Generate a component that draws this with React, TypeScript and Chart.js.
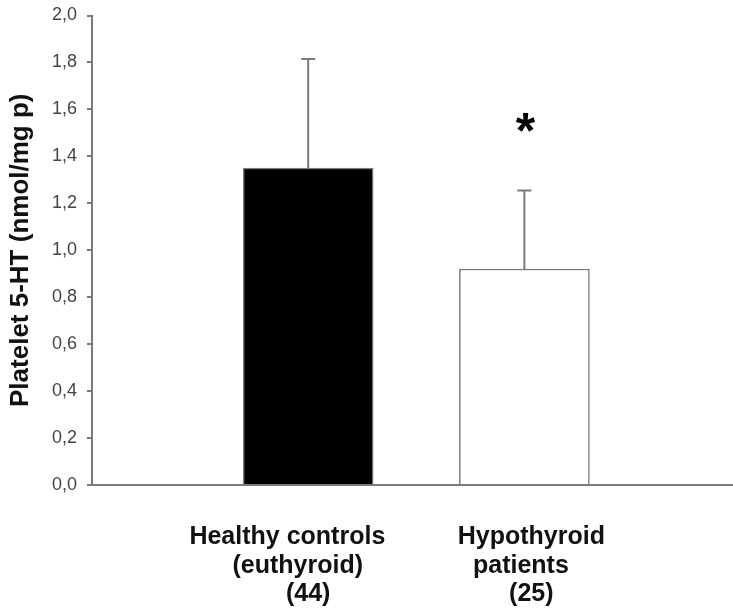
import React, { useEffect, useRef } from "react";
import { Chart, registerables } from "chart.js";

Chart.register(...registerables);

const categories: string[][] = [
  ["Healthy controls      ", "(euthyroid)   ", "(44)"],
  ["  Hypothyroid", "patients ", "  (25)"],
];
const positions = [1, 2];
const means = [1.35, 0.92];
const sds = [0.465, 0.335];
const sigMarks = ["", "*"];
const yTicks = [0, 0.2, 0.4, 0.6, 0.8, 1.0, 1.2, 1.4, 1.6, 1.8, 2.0];

const FONT = "'Liberation Sans', Arial, Helvetica, sans-serif";
const GREY = "#7a7a7a";

const errorBarPlugin = {
  id: "errorBars",
  afterDatasetsDraw(chart: any) {
    const { ctx } = chart;
    const xs = chart.scales.x;
    const ys = chart.scales.y;
    ctx.save();
    ctx.strokeStyle = GREY;
    ctx.lineWidth = 2;
    means.forEach((m, i) => {
      const px = xs.getPixelForValue(positions[i]);
      const y0 = ys.getPixelForValue(m);
      const y1 = ys.getPixelForValue(m + sds[i]);
      ctx.beginPath();
      ctx.moveTo(px, y0);
      ctx.lineTo(px, y1);
      ctx.moveTo(px - 7, y1);
      ctx.lineTo(px + 7, y1);
      ctx.stroke();
      if (sigMarks[i]) {
        ctx.font = `bold 50px ${FONT}`;
        ctx.fillStyle = "#000";
        ctx.textAlign = "center";
        ctx.textBaseline = "alphabetic";
        const mt = ctx.measureText(sigMarks[i]);
        const asc = mt.actualBoundingBoxAscent;
        const desc = mt.actualBoundingBoxDescent;
        const cy = y1 - 68;
        ctx.fillText(sigMarks[i], px + 1, cy + (asc - desc) / 2);
      }
    });
    ctx.restore();
  },
};

export default function App() {
  const ref = useRef<HTMLCanvasElement | null>(null);
  useEffect(() => {
    if (!ref.current) return;
    const chart = new Chart(ref.current, {
      type: "bar",
      data: {
        datasets: [
          {
            data: positions.map((p, i) => ({ x: p, y: means[i] })),
            backgroundColor: ["#000000", "#ffffff"],
            borderColor: GREY,
            borderWidth: 1.5,
            barThickness: 130,
          },
        ],
      },
      options: {
        animation: false,
        responsive: true,
        maintainAspectRatio: false,
        layout: { padding: { top: 15.5, right: 0, bottom: 0, left: 0 } },
        plugins: { legend: { display: false }, tooltip: { enabled: false } },
        scales: {
          x: {
            type: "linear",
            offset: false,
            min: 0,
            max: 2.965,
            afterBuildTicks: (scale: any) => {
              scale.ticks = positions.map((v) => ({ value: v }));
            },
            afterFit: (scale: any) => {
              scale.height = 125;
              scale.paddingLeft = 0;
              scale.paddingRight = 0;
            },
            grid: { display: false, drawTicks: false, offset: false },
            border: { display: true, color: GREY, width: 2 },
            ticks: {
              autoSkip: false,
              maxRotation: 0,
              minRotation: 0,
              padding: 38,
              color: "#111",
              font: { family: FONT, size: 25, weight: "bold", lineHeight: 1.14 },
              callback: (v: any) => {
                const i = positions.indexOf(Number(v));
                return i >= 0 ? categories[i] : "";
              },
            },
          },
          y: {
            min: 0,
            max: 2,
            afterBuildTicks: (scale: any) => {
              scale.ticks = yTicks.map((v) => ({ value: v }));
            },
            afterFit: (scale: any) => {
              scale.width = 92;
              scale.paddingTop = 0;
              scale.paddingBottom = 0;
            },
            grid: { drawOnChartArea: false, drawTicks: true, tickLength: 5, color: GREY, lineWidth: 2 },
            border: { display: true, color: GREY, width: 2 },
            ticks: {
              padding: 10,
              color: "#444",
              font: { family: FONT, size: 18 },
              callback: (v: any) => Number(v).toFixed(1).replace(".", ","),
            },
            title: {
              display: true,
              text: "Platelet 5-HT (nmol/mg p)",
              color: "#111",
              font: { family: FONT, size: 26, weight: "bold", lineHeight: 1.2 },
              padding: { top: 5, bottom: 0 },
            },
          },
        },
      },
      plugins: [errorBarPlugin],
    });
    return () => chart.destroy();
  }, []);
  return (
    <div style={{ position: "fixed", left: 0, top: 0, width: 733, height: 610, background: "#fff" }}>
      <canvas ref={ref} />
    </div>
  );
}
